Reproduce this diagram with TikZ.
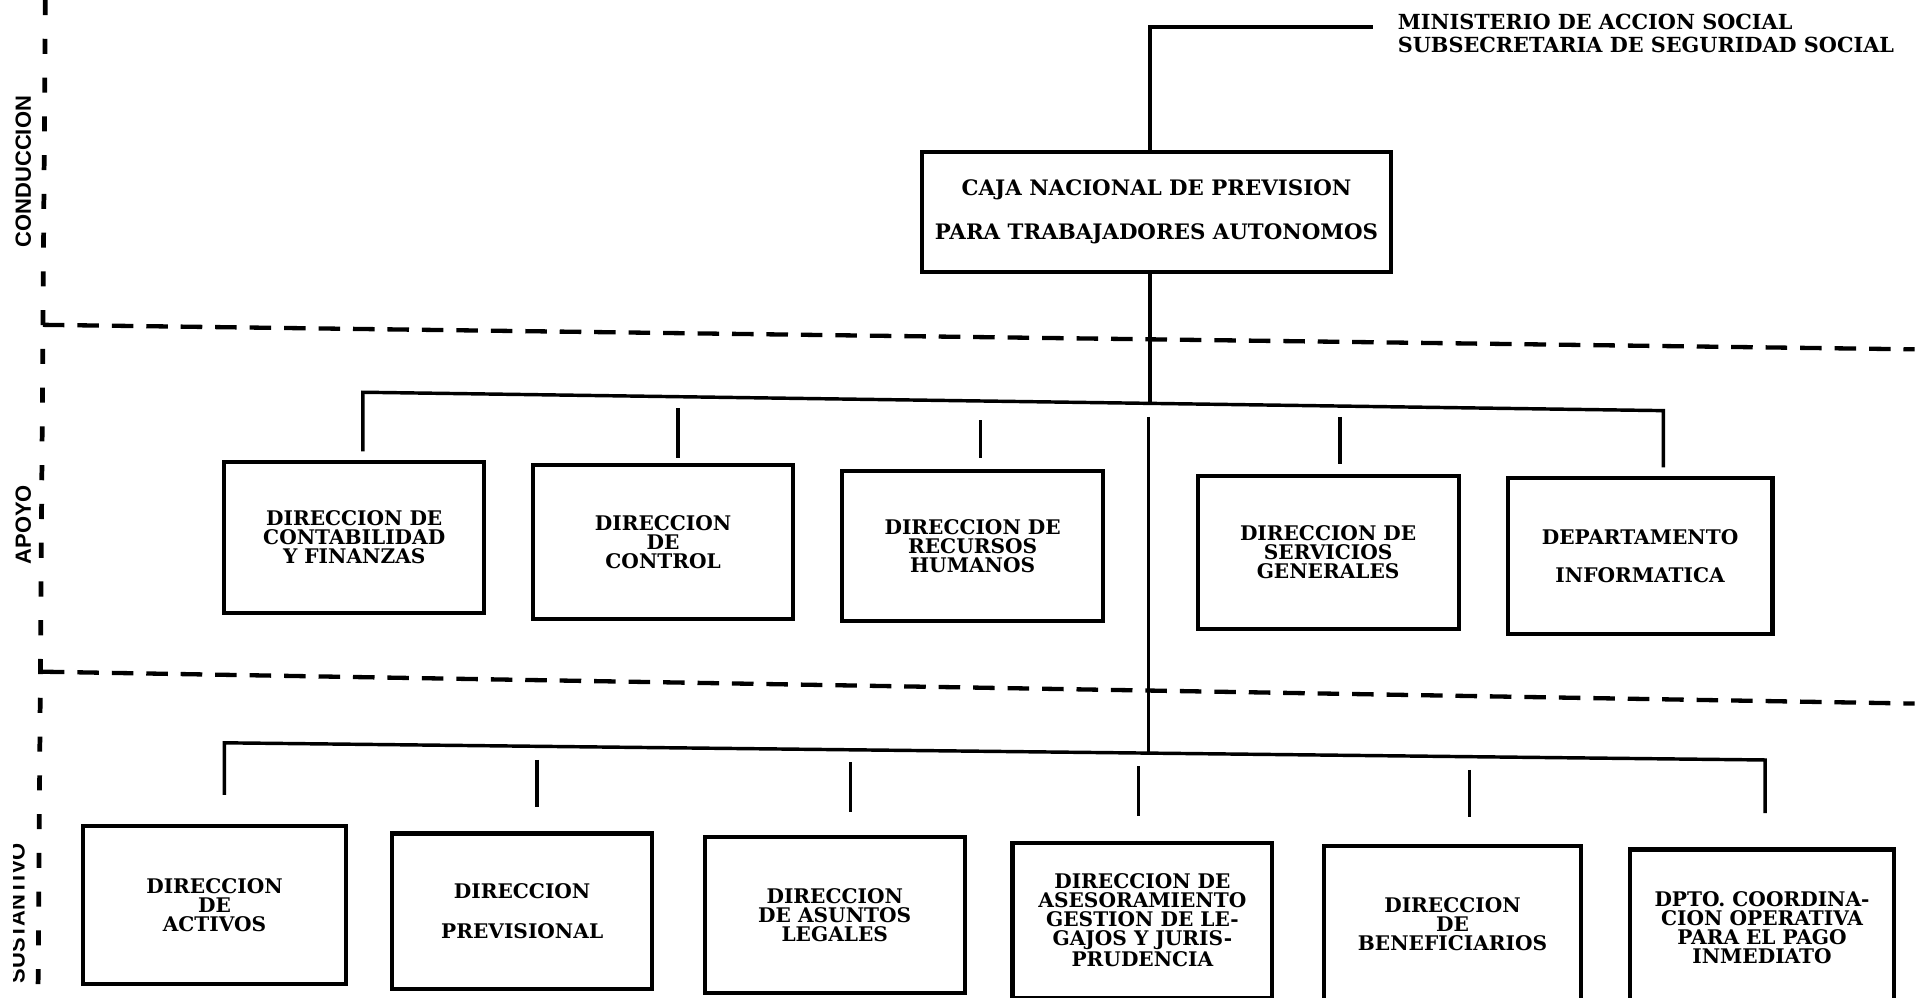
\documentclass[tikz,border=0pt]{standalone}
\usepackage{fontspec}
\setmainfont{DejaVu Serif}
\newfontfamily\lblfont{Liberation Sans}
\begin{document}
\begin{tikzpicture}[x=0.02cm,y=-0.02cm,
  box/.style={draw,line width=1.9pt,inner sep=0pt,align=center,font=\bfseries\fontsize{9.35pt}{8.8pt}\selectfont},
  conn/.style={line width=1.6pt},
  sep/.style={line width=2pt,dash pattern=on 10pt off 6pt},
  vsep/.style={line width=2.2pt,dash pattern=on 7pt off 11pt},
  side/.style={rotate=90,inner sep=0pt,font=\lblfont\bfseries\fontsize{10.2pt}{10pt}\selectfont},
  head/.style={inner sep=0pt,align=left,font=\bfseries\fontsize{9.65pt}{10.8pt}\selectfont}]
\useasboundingbox[fill=white] (0,0) rectangle (1568,814);

% separators
\coordinate (vT) at (37,0);
\coordinate (vB) at (31,814);
\coordinate (h1L) at (35,265);
\coordinate (h1R) at (1562,285);
\coordinate (h2L) at (35,548);
\coordinate (h2R) at (1562,574);
\draw[vsep] (vT) -- (vB);
\draw[sep] (h1L) -- (h1R);
\draw[sep] (h2L) -- (h2R);

% side labels
\node[side] (lcond) at (19,140) {CONDUCCION};
\node[side] (lapoyo) at (19,428) {APOYO};
\begin{scope}
  \clip (11,650) rectangle (30,814);
  \node[side] (lsust) at (14,745) {SUSTANTIVO};
\end{scope}

% header
\node[head,anchor=north west] (min) at (1140,11) {MINISTERIO DE ACCION SOCIAL\\SUBSECRETARIA DE SEGURIDAD SOCIAL};

% top box
\node[box,minimum width=7.66cm,minimum height=1.96cm,font=\bfseries\fontsize{9.9pt}{8.8pt}\selectfont] (caja) at (943.5,173)
  {CAJA NACIONAL DE PREVISION\\[10pt]PARA TRABAJADORES AUTONOMOS};

% apoyo boxes
\node[box,minimum width=4.24cm,minimum height=2.46cm] (cont) at (289,438.5) {DIRECCION DE\\CONTABILIDAD\\Y FINANZAS};
\node[box,minimum width=4.24cm,minimum height=2.52cm] (ctrl) at (541,442) {DIRECCION\\DE\\CONTROL};
\node[box,minimum width=4.26cm,minimum height=2.46cm] (rrhh) at (793.5,445.5) {DIRECCION DE\\RECURSOS\\HUMANOS};
\node[box,minimum width=4.26cm,minimum height=2.50cm] (serv) at (1083.5,450.5) {DIRECCION DE\\SERVICIOS\\GENERALES};
\node[box,minimum width=4.32cm,minimum height=2.54cm] (info) at (1338,453.5) {DEPARTAMENTO\\[9pt]INFORMATICA};

% sustantivo boxes
\node[box,minimum width=4.28cm,minimum height=2.58cm] (act) at (175,738.5) {DIRECCION\\DE\\ACTIVOS};
\node[box,minimum width=4.24cm,minimum height=2.54cm] (prev) at (426,743.5) {DIRECCION\\[9.5pt]PREVISIONAL};
\node[box,minimum width=4.24cm,minimum height=2.54cm] (leg) at (681,746.5) {DIRECCION\\DE ASUNTOS\\LEGALES};
\node[box,minimum width=4.24cm,minimum height=2.52cm] (ases) at (932,751) {DIRECCION DE\\ASESORAMIENTO\\GESTION DE LE-\\GAJOS Y JURIS-\\PRUDENCIA};
\node[box,minimum width=4.20cm,minimum height=2.56cm] (ben) at (1185,754) {DIRECCION\\DE\\BENEFICIARIOS};
\node[box,minimum width=4.30cm,minimum height=2.54cm] (dpto) at (1437.5,756.5) {DPTO. COORDINA-\\CION OPERATIVA\\PARA EL PAGO\\INMEDIATO};

% trunk
\coordinate (trunkT) at (938,22);
\coordinate (minend) at (1120,22);
\draw[conn] (caja.north -| trunkT) -- (trunkT) -- (minend);
\coordinate (aMid) at (938,329);
\draw[conn] (caja.south -| trunkT) -- (aMid);

% apoyo bar
\coordinate (aL) at (296,320);
\coordinate (aR) at (1357,335);
\draw[conn,shorten <=4pt,shorten >=4pt] (aL |- cont.north) -- (aL) -- (aR) -- (aR |- info.north);
\coordinate (dCtrl) at (553,333);
\coordinate (dRrhh) at (800,343);
\coordinate (dServ) at (1093,340);
\draw[conn,shorten >=2.3pt] (dCtrl) -- (dCtrl |- ctrl.north);
\draw[conn,shorten >=5pt] (dRrhh) -- (dRrhh |- rrhh.north);
\draw[conn,shorten >=4.5pt] (dServ) -- (dServ |- serv.north);

% lower trunk
\coordinate (tL) at (937,340);
\coordinate (sMid) at (937,614);
\draw[conn] (tL) -- (sMid);

% sustantivo bar
\coordinate (sL) at (183,606);
\coordinate (sR) at (1440,620);
\draw[conn,shorten <=13.6pt,shorten >=15.9pt] (sL |- act.north) -- (sL) -- (sR) -- (sR |- dpto.north);
\coordinate (dPrev) at (438,620);
\coordinate (dLeg) at (694,622);
\coordinate (dAses) at (929,625);
\coordinate (dBen) at (1199,628);
\draw[conn,shorten >=11.3pt] (dPrev) -- (dPrev |- prev.north);
\draw[conn,shorten >=10.8pt] (dLeg) -- (dLeg |- leg.north);
\draw[conn,shorten >=11.9pt] (dAses) -- (dAses |- ases.north);
\draw[conn,shorten >=12.5pt] (dBen) -- (dBen |- ben.north);
\end{tikzpicture}
\end{document}
